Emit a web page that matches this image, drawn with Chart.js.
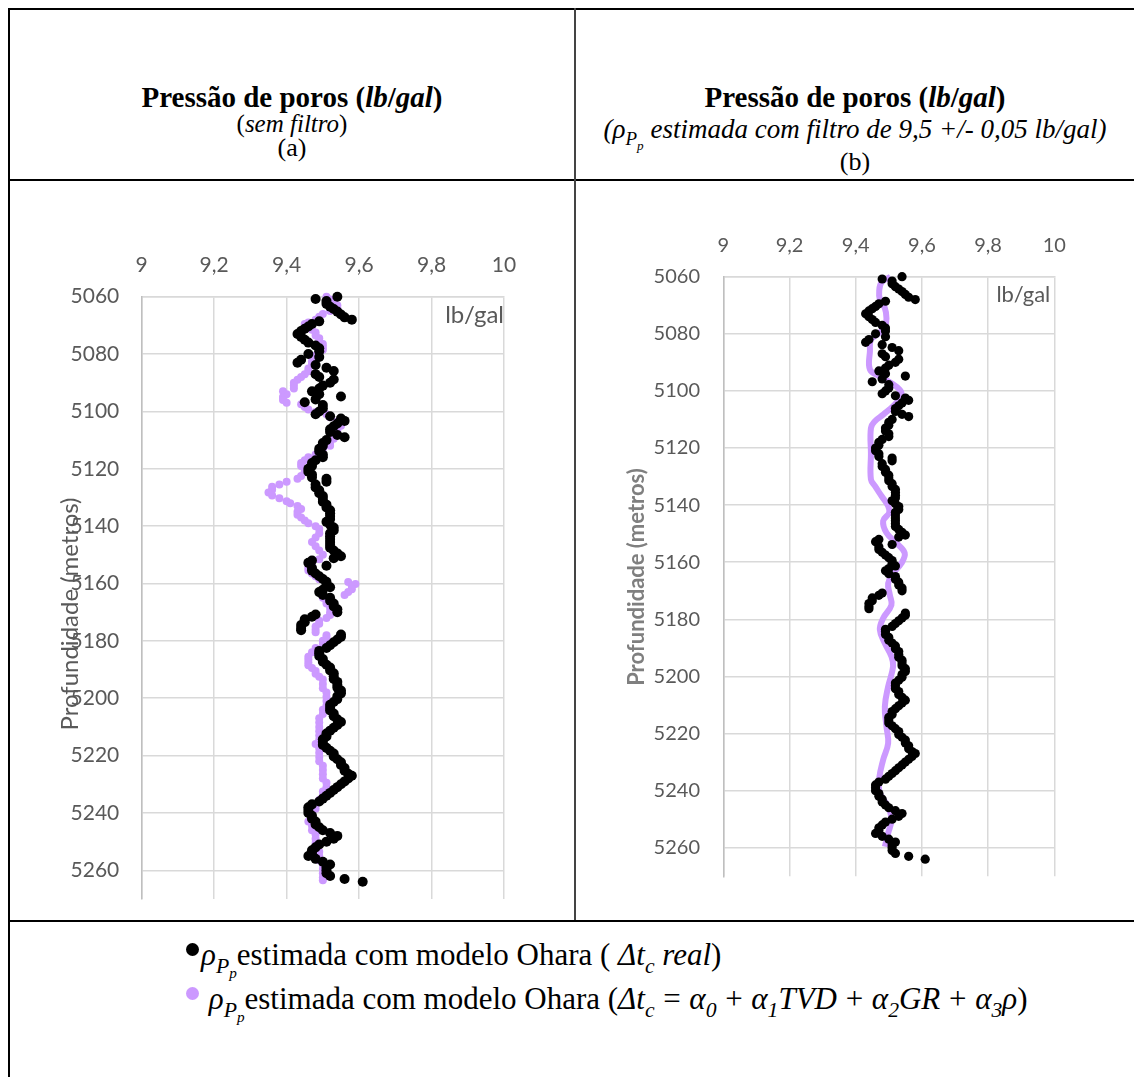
<!doctype html>
<html>
<head>
<meta charset="utf-8">
<title>Pressão de poros</title>
<script src="https://cdn.jsdelivr.net/npm/chart.js"></script>
<style>
  body { margin: 0; background: #fff; }
  #page { position: relative; width: 1134px; height: 1077px; overflow: hidden; font-family: "Liberation Serif", serif; color: #000; }
  .hl { position: absolute; height: 2px; background: #000; }
  .vl { position: absolute; width: 2px; background: #000; }
  .head { position: absolute; text-align: center; white-space: nowrap; line-height: 30px; }
  .m { font-style: italic; }
  .b { font-weight: bold; }
  sub { font-size: 70%; vertical-align: -0.35em; line-height: 0; }
  canvas { position: absolute; }
  .leg { position: absolute; left: 186px; white-space: nowrap; font-size: 31px; line-height: 34px; }
  .dot { display: inline-block; width: 13px; height: 13px; border-radius: 50%; vertical-align: 9px; margin-right: 2px; }
  .op { display: inline-block; padding: 0 0.28em; font-style: normal; }
</style>
</head>
<body>
<div id="page">
  <!-- table rules -->
  <div class="hl" style="left:8px;top:8px;width:1126px;"></div>
  <div class="vl" style="left:8px;top:8px;height:1069px;"></div>
  <div class="hl" style="left:8px;top:179px;width:1126px;"></div>
  <div class="vl" style="left:574px;top:8px;height:913px;background:#444;"></div>
  <div class="hl" style="left:8px;top:920px;width:1126px;"></div>

  <!-- column headers -->
  <div class="head b" style="left:10px;width:564px;top:82px;font-size:29px;">Pressão de poros (<span class="m">lb</span>/<span class="m">gal</span>)</div>
  <div class="head" style="left:10px;width:564px;top:109px;font-size:25px;">(<span class="m">sem filtro</span>)</div>
  <div class="head" style="left:10px;width:564px;top:133px;font-size:26px;">(a)</div>

  <div class="head b" style="left:576px;width:558px;top:82px;font-size:29px;">Pressão de poros (<span class="m">lb</span>/<span class="m">gal</span>)</div>
  <div class="head m" style="left:576px;width:558px;top:114px;font-size:27px;">(ρ<sub>P<sub>p</sub></sub> estimada com filtro de 9,5 +/- 0,05 lb/gal)</div>
  <div class="head" style="left:576px;width:558px;top:147px;font-size:26px;">(b)</div>

  <canvas id="chartA" style="left:10px;top:184px;" width="560" height="750"></canvas>
  <canvas id="chartB" style="left:580px;top:184px;" width="552" height="750"></canvas>

  <!-- legend -->
  <div class="leg" style="top:938px;"><span class="dot" style="background:#000;"></span><span class="m">ρ<sub>P<sub>p</sub></sub></span>estimada com modelo Ohara ( <span class="m">Δt<sub>c</sub> real</span>)</div>
  <div class="leg" style="top:982px;"><span class="dot" style="background:#cc99ff;"></span> <span class="m">ρ<sub>P<sub>p</sub></sub></span>estimada com modelo Ohara (<span class="m">Δt<sub>c</sub><span class="op">=</span>α<sub>0</sub><span class="op">+</span>α<sub>1</sub>TVD<span class="op">+</span>α<sub>2</sub>GR<span class="op">+</span>α<sub>3</sub>ρ</span>)</div>
</div>

<script>
// pore pressure from Ohara model with measured sonic (metres, lb/gal)
const depthReal = [
  5060.0, 5060.8, 5061.5, 5062.5, 5063.5, 5064.3, 5065.2, 5066.2, 5067.2, 5068.0,
  5068.6, 5069.5, 5070.4, 5071.2, 5072.0, 5073.0, 5074.0, 5075.0, 5076.0, 5077.0,
  5078.0, 5079.0, 5080.0, 5081.0, 5082.0, 5083.0, 5083.8, 5084.8, 5085.9, 5087.0,
  5088.0, 5088.9, 5090.0, 5091.0, 5092.0, 5093.0, 5094.0, 5094.8, 5095.8, 5096.8,
  5097.8, 5099.0, 5100.0, 5101.0, 5101.7, 5102.5, 5103.3, 5104.2, 5105.2, 5106.2,
  5107.2, 5108.2, 5109.0, 5110.0, 5111.0, 5112.0, 5113.0, 5114.0, 5115.0, 5116.0,
  5117.0, 5118.0, 5119.0, 5120.0, 5121.0, 5122.0, 5123.0, 5123.5, 5124.5, 5125.5,
  5126.5, 5127.5, 5128.5, 5129.5, 5130.5, 5131.5, 5132.5, 5133.5, 5134.5, 5135.5,
  5136.5, 5137.5, 5138.5, 5139.5, 5140.5, 5141.5, 5142.5, 5143.5, 5144.5, 5145.5,
  5146.5, 5147.5, 5148.5, 5149.5, 5150.5, 5151.2, 5152.0, 5152.8, 5153.8, 5154.6,
  5155.5, 5156.5, 5157.5, 5158.4, 5159.4, 5160.4, 5161.3, 5162.2, 5163.0, 5164.0,
  5165.0, 5166.0, 5167.0, 5168.0, 5169.0, 5170.0, 5170.8, 5171.6, 5172.5, 5173.5,
  5174.5, 5175.5, 5176.3, 5177.8, 5178.6, 5179.5, 5180.5, 5181.5, 5182.5, 5183.5,
  5184.3, 5185.3, 5186.3, 5187.3, 5188.3, 5189.3, 5190.3, 5191.3, 5192.3, 5193.3,
  5194.3, 5195.3, 5196.3, 5197.3, 5198.3, 5199.3, 5200.3, 5201.3, 5202.3, 5203.3,
  5204.3, 5205.3, 5206.3, 5207.3, 5208.3, 5209.3, 5210.3, 5211.3, 5212.3, 5213.3,
  5214.3, 5215.3, 5216.3, 5217.3, 5218.3, 5219.3, 5220.3, 5221.3, 5222.3, 5223.3,
  5224.3, 5225.3, 5226.3, 5227.0, 5228.0, 5229.0, 5230.0, 5231.0, 5232.0, 5233.0,
  5234.0, 5235.0, 5236.0, 5237.0, 5238.0, 5239.0, 5240.0, 5241.0, 5242.0, 5243.0,
  5244.0, 5245.0, 5246.0, 5247.0, 5248.0, 5249.0, 5250.0, 5251.0, 5252.0, 5253.0,
  5254.0, 5255.0, 5256.0, 5257.0, 5258.0, 5259.0, 5260.0, 5261.0, 5262.0, 5263.0,
  5264.0
];
const ppReal = [
  9.54, 9.48, 9.51, 9.51, 9.52, 9.53, 9.54, 9.55, 9.56, 9.58,
  9.49, 9.47, 9.46, 9.45, 9.44, 9.43, 9.44, 9.45, 9.46, 9.48,
  9.49, 9.49, 9.46, 9.49, 9.44, 9.43, 9.48, 9.51, 9.53, 9.48,
  9.49, 9.53, 9.52, 9.50, 9.49, 9.47, 9.49, 9.55, 9.48, 9.45,
  9.50, 9.50, 9.49, 9.48, 9.52, 9.55, 9.56, 9.54, 9.53, 9.52,
  9.52, 9.54, 9.56, 9.51, 9.50, 9.50, 9.49, 9.49, 9.50, 9.50,
  9.48, 9.47, 9.47, 9.46, 9.46, 9.47, 9.47, 9.51, 9.51, 9.48,
  9.48, 9.49, 9.49, 9.50, 9.50, 9.50, 9.51, 9.51, 9.52, 9.52,
  9.52, 9.52, 9.51, 9.52, 9.53, 9.53, 9.52, 9.52, 9.52, 9.52,
  9.52, 9.52, 9.53, 9.54, 9.55, 9.53, 9.47, 9.46, 9.51, 9.47,
  9.47, 9.48, 9.49, 9.50, 9.51, 9.51, 9.52, 9.50, 9.49, 9.50,
  9.52, 9.52, 9.53, 9.53, 9.54, 9.54, 9.48, 9.47, 9.45, 9.45,
  9.44, 9.44, 9.44, 9.55, 9.55, 9.54, 9.53, 9.52, 9.51, 9.49,
  9.49, 9.49, 9.50, 9.50, 9.51, 9.52, 9.52, 9.53, 9.53, 9.53,
  9.54, 9.54, 9.54, 9.55, 9.55, 9.54, 9.54, 9.53, 9.52, 9.52,
  9.52, 9.53, 9.53, 9.54, 9.55, 9.54, 9.53, 9.52, 9.51, 9.51,
  9.50, 9.50, 9.50, 9.51, 9.52, 9.53, 9.53, 9.54, 9.55, 9.55,
  9.56, 9.56, 9.57, 9.58, 9.57, 9.56, 9.55, 9.54, 9.53, 9.52,
  9.51, 9.50, 9.49, 9.47, 9.46, 9.46, 9.46, 9.47, 9.47, 9.48,
  9.48, 9.49, 9.50, 9.52, 9.54, 9.53, 9.51, 9.49, 9.48, 9.47,
  9.47, 9.46, 9.48, 9.50, 9.52, 9.51, 9.51, 9.51, 9.52, 9.56,
  9.61
];

// Ohara model with regressed sonic, no filter
const depthFit = [
  5060.0, 5061.0, 5062.0, 5063.0, 5064.0, 5065.0, 5066.0, 5067.0, 5068.0, 5069.0,
  5069.5, 5070.5, 5071.5, 5072.5, 5073.5, 5074.5, 5075.5, 5076.5, 5077.5, 5078.5,
  5079.5, 5080.5, 5081.5, 5082.5, 5083.5, 5085.0, 5086.0, 5087.0, 5088.0, 5089.0,
  5090.0, 5091.0, 5092.0, 5093.0, 5094.0, 5095.0, 5096.0, 5097.0, 5097.5, 5098.5,
  5099.3, 5100.2, 5101.0, 5102.0, 5103.5, 5105.0, 5106.5, 5108.0, 5109.5, 5111.0,
  5112.0, 5113.0, 5114.0, 5115.0, 5116.0, 5117.0, 5118.0, 5119.0, 5120.0, 5121.0,
  5122.5, 5123.5, 5124.5, 5125.5, 5126.3, 5127.3, 5128.3, 5129.3, 5130.3, 5131.3,
  5132.0, 5133.0, 5134.0, 5135.0, 5136.0, 5137.0, 5138.0, 5139.0, 5140.0, 5141.0,
  5142.5, 5144.0, 5145.5, 5147.0, 5148.5, 5150.0, 5151.5, 5153.0, 5154.5, 5155.5,
  5156.5, 5157.5, 5158.5, 5159.5, 5160.2, 5161.0, 5162.0, 5163.0, 5164.0, 5165.0,
  5166.0, 5167.0, 5168.5, 5170.0, 5171.0, 5172.0, 5173.0, 5174.0, 5175.0, 5176.0,
  5177.0, 5178.0, 5179.0, 5180.0, 5181.0, 5182.5, 5184.0, 5185.5, 5186.5, 5187.5,
  5188.5, 5189.5, 5190.5, 5191.5, 5192.5, 5193.5, 5195.0, 5196.5, 5198.0, 5199.5,
  5201.0, 5202.5, 5204.0, 5205.5, 5207.0, 5208.5, 5210.0, 5211.5, 5213.0, 5214.5,
  5216.0, 5217.5, 5219.0, 5220.5, 5222.0, 5223.5, 5225.0, 5226.5, 5228.0, 5229.5,
  5231.0, 5232.5, 5234.0, 5235.5, 5237.0, 5238.5, 5240.0, 5241.5, 5243.0, 5244.5,
  5246.0, 5247.5, 5249.0, 5250.5, 5252.0, 5253.5, 5255.0, 5256.5, 5258.0, 5259.5,
  5261.0, 5262.5, 5263.5
];
const ppFit = [
  9.51, 9.52, 9.53, 9.54, 9.54, 9.52, 9.50, 9.49, 9.48, 9.46,
  9.45, 9.46, 9.47, 9.48, 9.48, 9.49, 9.49, 9.50, 9.50, 9.50,
  9.49, 9.48, 9.48, 9.47, 9.47, 9.46, 9.46, 9.45, 9.44, 9.43,
  9.42, 9.42, 9.42, 9.39, 9.40, 9.39, 9.39, 9.40, 9.44, 9.45,
  9.46, 9.48, 9.51, 9.52, 9.54, 9.55, 9.54, 9.53, 9.53, 9.52,
  9.52, 9.50, 9.49, 9.48, 9.46, 9.45, 9.44, 9.44, 9.45, 9.45,
  9.44, 9.43, 9.40, 9.38, 9.36, 9.36, 9.35, 9.36, 9.38, 9.40,
  9.41, 9.43, 9.44, 9.43, 9.43, 9.44, 9.45, 9.46, 9.48, 9.49,
  9.49, 9.48, 9.47, 9.48, 9.49, 9.50, 9.49, 9.47, 9.46, 9.46,
  9.47, 9.48, 9.49, 9.57, 9.59, 9.58, 9.58, 9.57, 9.56, 9.50,
  9.51, 9.51, 9.52, 9.52, 9.52, 9.51, 9.49, 9.49, 9.48, 9.48,
  9.48, 9.51, 9.51, 9.50, 9.50, 9.48, 9.47, 9.46, 9.46, 9.46,
  9.46, 9.47, 9.48, 9.48, 9.49, 9.50, 9.50, 9.50, 9.51, 9.51,
  9.51, 9.51, 9.50, 9.50, 9.49, 9.49, 9.49, 9.49, 9.49, 9.49,
  9.48, 9.49, 9.49, 9.49, 9.49, 9.50, 9.50, 9.50, 9.50, 9.51,
  9.51, 9.50, 9.50, 9.49, 9.48, 9.48, 9.47, 9.47, 9.46, 9.47,
  9.47, 9.48, 9.48, 9.48, 9.48, 9.49, 9.49, 9.49, 9.50, 9.50,
  9.50, 9.50, 9.50
];

// regressed sonic, filtered to 9.5 +/- 0.05 lb/gal
const depthFiltered = [
  5060.0, 5062.0, 5065.0, 5068.0, 5071.0, 5074.6, 5077.5, 5080.0, 5082.0, 5086.0,
  5092.5, 5095.0, 5097.3, 5099.6, 5101.3, 5104.8, 5108.3, 5110.6, 5113.0, 5122.0,
  5131.0, 5133.3, 5136.8, 5140.3, 5142.7, 5145.5, 5149.7, 5153.3, 5156.8, 5160.4,
  5163.9, 5167.4, 5171.4, 5175.0, 5179.6, 5183.7, 5188.4, 5193.0, 5196.5, 5203.6,
  5210.6, 5217.6, 5223.4, 5229.2, 5235.7, 5240.9, 5245.6, 5250.2, 5254.9, 5259.6
];
const ppFiltered = [
  9.505, 9.478, 9.471, 9.473, 9.488, 9.493, 9.488, 9.468, 9.446, 9.443,
  9.443, 9.473, 9.508, 9.533, 9.538, 9.518, 9.483, 9.458, 9.446, 9.446,
  9.446, 9.458, 9.478, 9.498, 9.501, 9.483, 9.493, 9.523, 9.548, 9.538,
  9.513, 9.498, 9.503, 9.508, 9.483, 9.473, 9.488, 9.508, 9.513, 9.498,
  9.488, 9.493, 9.498, 9.483, 9.471, 9.473, 9.498, 9.508, 9.498, 9.488
];

const pressureTicks = [9, 9.2, 9.4, 9.6, 9.8, 10];
const depthTicks = [5060, 5080, 5100, 5120, 5140, 5160, 5180, 5200, 5220, 5240, 5260];

const BLACK = '#000000';
const LILAC = '#cc99ff';
const GRID = '#d9d9d9';
const TICK = '#595959';

const pairs = (ys, xs) => ys.map((y, i) => ({ x: xs[i], y: y }));
const fmt = v => String(Number(v.toFixed(1))).replace('.', ',');

// unit label inside the plot and the rotated depth title
const notes = {
  id: 'notes',
  afterDraw(chart, args, o) {
    const { ctx, chartArea: a } = chart;
    ctx.save();
    ctx.fillStyle = o.unitColor;
    ctx.font = o.unitFont;
    ctx.textAlign = 'right';
    ctx.textBaseline = 'middle';
    ctx.fillText('lb/gal', a.right + o.unitDx, a.top + o.unitDy);
    ctx.translate(o.titleX, o.titleY);
    ctx.rotate(-Math.PI / 2);
    ctx.font = o.titleFont;
    ctx.fillStyle = o.titleColor;
    ctx.textAlign = 'center';
    ctx.fillText('Profundidade (metros)', 0, 0);
    ctx.restore();
  }
};

function makeChart(id, datasets, box, n) {
  return new Chart(document.getElementById(id), {
    type: 'scatter',
    data: { datasets: datasets },
    plugins: [notes],
    options: {
      responsive: false,
      animation: false,
      layout: { padding: { left: 0, top: 0, right: box.right, bottom: box.bottom } },
      plugins: {
        legend: { display: false },
        tooltip: { enabled: false },
        notes: n
      },
      scales: {
        x: {
          position: 'top',
          min: 9,
          max: 10,
          afterBuildTicks: s => { s.ticks = pressureTicks.map(v => ({ value: v })); },
          afterFit: s => { s.height = box.top; },
          grid: { color: GRID, lineWidth: 1.5, drawTicks: false },
          border: { color: GRID, width: 1.5 },
          ticks: { color: TICK, padding: box.xPad, font: { family: 'Lato', size: box.font }, callback: v => fmt(v), maxRotation: 0 }
        },
        y: {
          reverse: true,
          min: 5060,
          max: 5270,
          afterBuildTicks: s => { s.ticks = depthTicks.map(v => ({ value: v })); },
          afterFit: s => { s.width = box.left; },
          grid: { color: GRID, lineWidth: 1.5, drawTicks: false },
          border: { color: '#bfbfbf', width: 1.5 },
          ticks: { color: TICK, padding: box.yPad, font: { family: 'Lato', size: box.font }, callback: v => String(v) }
        }
      }
    }
  });
}

makeChart('chartA', [
  { data: pairs(depthReal, ppReal), backgroundColor: BLACK, borderColor: BLACK, pointRadius: 5, pointBorderWidth: 0, clip: false },
  { data: pairs(depthFit, ppFit), backgroundColor: LILAC, borderColor: LILAC, pointRadius: 4, pointBorderWidth: 0, clip: false }
], { left: 131.7, top: 112.7, right: 66, bottom: 29.4, xPad: 19, yPad: 22.4, font: 21 }, {
  unitFont: '24px Lato', unitColor: TICK, unitDx: 0, unitDy: 19,
  titleFont: '24px Lato', titleColor: TICK, titleX: 60, titleY: 430
});

makeChart('chartB', [
  { data: pairs(depthReal, ppReal), backgroundColor: BLACK, borderColor: BLACK, pointRadius: 4.6, pointBorderWidth: 0, clip: false },
  { data: pairs(depthFiltered, ppFiltered), showLine: true, borderColor: LILAC, borderWidth: 6, tension: 0.4, pointRadius: 0, clip: false }
], { left: 143.3, top: 92.7, right: 77.7, bottom: 57.7, xPad: 18.7, yPad: 23.3, font: 20 }, {
  unitFont: '22px Lato', unitColor: TICK, unitDx: -4, unitDy: 18,
  titleFont: 'bold 22px Lato', titleColor: '#7f7f7f', titleX: 57, titleY: 393
});
</script>
</body>
</html>
